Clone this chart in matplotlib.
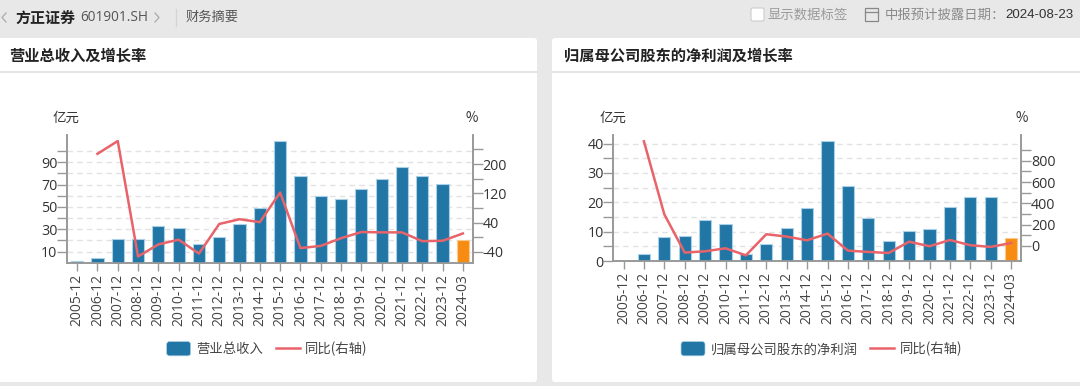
import numpy as np
import matplotlib
matplotlib.use("Agg")
import matplotlib.pyplot as plt
from matplotlib.legend_handler import HandlerPatch
from matplotlib.patches import FancyBboxPatch, Rectangle

CJK = ['Noto Sans CJK SC', 'DejaVu Sans']
plt.rcParams['font.family'] = CJK

W, H = 1080, 386

periods = ['2005-12', '2006-12', '2007-12', '2008-12', '2009-12', '2010-12', '2011-12',
           '2012-12', '2013-12', '2014-12', '2015-12', '2016-12', '2017-12', '2018-12',
           '2019-12', '2020-12', '2021-12', '2022-12', '2023-12', '2024-03']

revenue = [1.5, 4.5, 21, 21.5, 33.2, 31, 17, 23.4, 34.4, 49, 109, 77.8, 59.5, 57,
           65.8, 75.3, 86, 77.8, 71, 20]
revenue_yoy = [np.nan, 228, 263, -53, -20, -7, -45, 36, 49, 41, 122, -30, -24, -3,
               14, 13, 13, -11, -10, 10]

profit = [0.2, 2.6, 8.2, 8.7, 14, 12.6, 2.6, 5.7, 11.2, 18, 40.7, 25.7, 14.6, 6.7,
          10.1, 11.1, 18.4, 21.8, 21.8, 7.9]
profit_yoy = [np.nan, 982, 297, -62, -50, -22, -88, 110, 88, 53, 116, -44, -56, -66,
              40, -3, 56, 7, -9, 28]

BLUE = '#2176a5'
ORANGE = '#f78c12'
RED = '#e8636a'
AXIS = '#999999'
TEXT = '#333333'

fig = plt.figure(figsize=(W / 100, H / 100), dpi=100, facecolor='#e8e8e8')

# page furniture, drawn in pixel coordinates
bg = fig.add_axes([0, 0, 1, 1])
bg.set_xlim(0, W)
bg.set_ylim(H, 0)
bg.axis('off')

for x0, x1 in [(-10, 537), (552, 1090)]:
    bg.add_patch(FancyBboxPatch((x0 + 3, 41), x1 - x0 - 6, 338, boxstyle='round,pad=3',
                                fc='white', ec='none'))
    bg.plot([x0, x1], [71.7, 71.7], color='#e4e4e4', lw=1.5)

bg.plot([6, 2, 6], [13, 17.5, 22], color='#aaaaaa', lw=0.9)
bg.plot([155, 159, 155], [13, 17.5, 22], color='#aaaaaa', lw=0.9)
bg.plot([175.5, 175.5], [9, 26], color='#d4d4d4', lw=1)
bg.text(15, 17.5, '方正证券', fontsize=10.8, fontweight='bold', color='#222222', va='center')
bg.text(80, 17.5, '601901.SH', fontsize=9.8, family='Open Sans', color='#555555', va='center')
bg.text(186, 17.5, '财务摘要', fontsize=9.5, color='#555555', va='center')

bg.add_patch(FancyBboxPatch((752.5, 9.5), 10, 10, boxstyle='round,pad=1.5', fc='white', ec='#cccccc', lw=0.8))
bg.text(767, 14.7, '显示数据标签', fontsize=9.6, color='#9a9a9a', va='center')
bg.add_patch(Rectangle((864.5, 8), 13, 12.5, fc='none', ec='#888888', lw=0.9))
bg.plot([864.5, 877.5], [12, 12], color='#888888', lw=0.9)
bg.text(885, 14.7, '中报预计披露日期：', fontsize=9.6, color='#8a8a8a', va='center')
bg.text(1005, 14.7, '2024-08-23', fontsize=9.6, family='Liberation Sans', color='#333333', va='center')

bg.text(9, 55.3, '营业总收入及增长率', fontsize=11, fontweight='bold', color='#222222', va='center')
bg.text(564, 55.3, '归属母公司股东的净利润及增长率', fontsize=11, fontweight='bold', color='#222222', va='center')


def round_handle(legend, orig_handle, xdescent, ydescent, width, height, fontsize):
    return FancyBboxPatch((-xdescent + 2, -ydescent + 1), width - 4, height - 2,
                          boxstyle='round,pad=2', mutation_aspect=1)


def draw_panel(box, bars, yoy, ylim, yticks, ylabels, y2lim, y2ticks, y2labels,
               bar_name, unit_xy, pct_xy, legend_xy):
    left, top, right, bottom = box
    ax = fig.add_axes([left / W, 1 - bottom / H, (right - left) / W, (bottom - top) / H])
    ax.patch.set_alpha(0)
    x = np.arange(len(periods))
    colors = [BLUE] * (len(periods) - 1) + [ORANGE]
    edges = ['#a9d0e6'] * (len(periods) - 1) + ['#fbc98c']
    ax.bar(x, bars, width=0.6, color=colors, edgecolor=edges, linewidth=0.8, zorder=3)
    ax.set_xlim(-0.5, len(periods) - 0.5)
    ax.set_ylim(*ylim)
    ax.set_yticks(yticks)
    ax.set_yticklabels(ylabels, family='Open Sans')
    ax.set_xticks(x)
    ax.set_xticklabels(periods, rotation=90, family='Open Sans')
    ax.grid(axis='y', color='#e2e2e2', ls=(0, (4, 3)), lw=1, zorder=0)
    ax.tick_params(axis='y', length=7, width=1, color=AXIS, labelcolor=TEXT, labelsize=10.3, pad=0)
    ax.tick_params(axis='x', length=6, width=1, color=AXIS, labelcolor='#444444', labelsize=10, pad=2)

    ax2 = ax.twinx()
    line_art, = ax2.plot(x, yoy, color=RED, lw=1.8, zorder=4)
    ax2.set_ylim(*y2lim)
    ax2.set_yticks(y2ticks)
    ax2.set_yticklabels(y2labels, family='Open Sans')
    ax2.tick_params(axis='y', length=7, width=1, color=AXIS, labelcolor=TEXT, labelsize=10.3, pad=0)

    for a in (ax, ax2):
        a.spines['top'].set_visible(False)
        for side in ('left', 'right', 'bottom'):
            a.spines[side].set_color(AXIS)
            a.spines[side].set_linewidth(1.2)

    bg.text(unit_xy[0], unit_xy[1], '亿元', fontsize=9.7, color=TEXT, va='center', ha='left')
    bg.text(pct_xy[0], pct_xy[1], '%', fontsize=9.7, color=TEXT, va='center', ha='left')

    bar_handle = Rectangle((0, 0), 1, 1, fc=BLUE, ec='#a9d0e6', lw=0.5)
    fig.legend([bar_handle, line_art], [bar_name, '同比(右轴)'], loc='center',
               bbox_to_anchor=(legend_xy[0] / W, 1 - legend_xy[1] / H), ncol=2, frameon=False,
               fontsize=9.6, handlelength=1.8, handleheight=0.95, handletextpad=0.4,
               columnspacing=0.95, labelcolor='#444444',
               handler_map={Rectangle: HandlerPatch(patch_func=round_handle)})
    return ax, ax2


draw_panel((67, 135, 473, 262.7), revenue, revenue_yoy, (0, 114.5),
           list(range(10, 110, 10)), ['10', '', '30', '', '50', '', '70', '', '90', ''],
           (-70, 279.5), list(range(-40, 280, 40)),
           ['-40', '', '40', '', '120', '', '200', ''],
           '营业总收入', (53, 118), (466, 118), (267, 349))

draw_panel((613.3, 135, 1021.3, 261.2), profit, profit_yoy, (0, 42.9),
           list(range(0, 45, 5)), ['0', '', '10', '', '20', '', '30', '', '40'],
           (-143, 1041), list(range(0, 1000, 100)),
           ['0', '', '200', '', '400', '', '600', '', '800', ''],
           '归属母公司股东的净利润', (600, 118), (1015, 118), (821.5, 349))

fig.savefig('out.png', dpi=100, facecolor=fig.get_facecolor())
